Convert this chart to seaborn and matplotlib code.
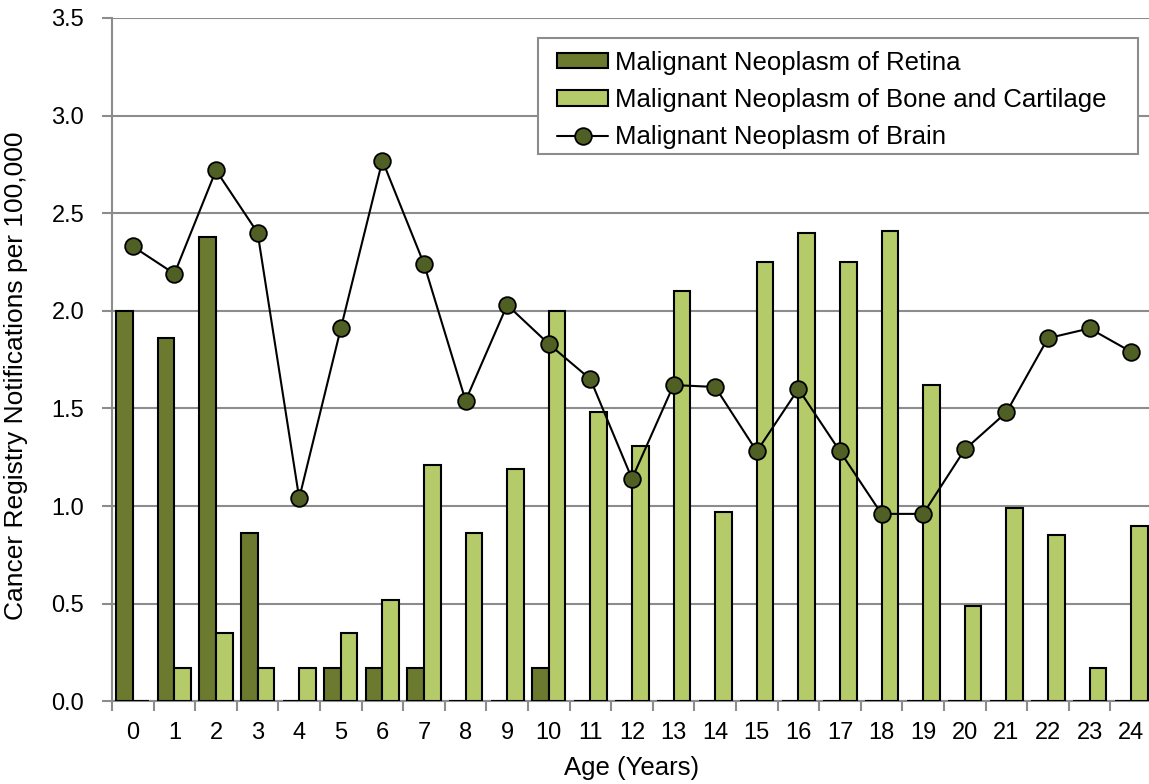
import numpy as np
import pandas as pd
import matplotlib
matplotlib.use("Agg")
import matplotlib.pyplot as plt
from matplotlib.patches import Patch, Rectangle
from matplotlib.lines import Line2D
from matplotlib.ticker import MultipleLocator, FormatStrFormatter
import seaborn as sns

# Age in years and rates per 100,000
ages = list(range(25))
retina = [2.00, 1.86, 2.38, 0.86, 0.00, 0.17, 0.17, 0.17, 0.00, 0.00, 0.17, 0.00, 0.00,
          0.00, 0.00, 0.00, 0.00, 0.00, 0.00, 0.00, 0.00, 0.00, 0.00, 0.00, 0.00]
bone = [0.00, 0.17, 0.35, 0.17, 0.17, 0.35, 0.52, 1.21, 0.86, 1.19, 2.00, 1.48, 1.31,
        2.10, 0.97, 2.25, 2.40, 2.25, 2.41, 1.62, 0.49, 0.99, 0.85, 0.17, 0.90]
brain = [2.33, 2.19, 2.72, 2.40, 1.04, 1.91, 2.77, 2.24, 1.54, 2.03, 1.83, 1.65, 1.14,
         1.62, 1.61, 1.28, 1.60, 1.28, 0.96, 0.96, 1.29, 1.48, 1.86, 1.91, 1.79]

series_names = ["Malignant Neoplasm of Retina",
                "Malignant Neoplasm of Bone and Cartilage",
                "Malignant Neoplasm of Brain"]

dark_green = "#6b7a2e"
light_green = "#b5ca68"
marker_green = "#505f23"
grid_grey = "#8c8c8c"

sns.set_theme(style="white")
plt.rcParams["font.family"] = ["Liberation Sans", "DejaVu Sans"]
plt.rcParams["text.color"] = "black"
plt.rcParams["axes.labelcolor"] = "black"

bars = pd.DataFrame({
    "Age": [str(a) for a in ages] * 2,
    "Rate": retina + bone,
    "Series": [series_names[0]] * len(ages) + [series_names[1]] * len(ages),
})
line = pd.DataFrame({"Age": ages, "Rate": brain})

fig = plt.figure(figsize=(11.49, 7.84), dpi=100)
ax = fig.add_axes([112 / 1149, (784 - 701.3) / 784, 1040 / 1149, 683.3 / 784])

sns.barplot(data=bars, x="Age", y="Rate", hue="Series",
            palette=[dark_green, light_green], saturation=1, width=0.8, gap=0,
            edgecolor="black", linewidth=1.5, legend=False, ax=ax, zorder=3)
sns.lineplot(data=line, x="Age", y="Rate", color="black", linewidth=1.5,
             marker="o", markersize=12, markerfacecolor=marker_green,
             markeredgecolor="black", markeredgewidth=1.3, ax=ax, zorder=4)

ax.set_xlim(-0.5, 24.5)
ax.set_ylim(0, 3.5)
ax.yaxis.set_major_locator(MultipleLocator(0.5))
ax.yaxis.set_major_formatter(FormatStrFormatter("%.1f"))
ax.grid(axis="y", color=grid_grey, linewidth=1.5, zorder=0)
ax.set_axisbelow(True)

# Category labels centred, tick marks on category boundaries
ax.set_xticks(ages)
ax.set_xticklabels([str(a) for a in ages])
ax.set_xticks(np.arange(-0.5, 25, 1), minor=True)
ax.tick_params(axis="x", which="major", length=0, pad=15, labelsize=17, labelcolor="black")
ax.tick_params(axis="x", which="minor", length=7, width=1.5, color=grid_grey,
               direction="out", bottom=True)
ax.tick_params(axis="y", which="major", length=7, width=1.5, color=grid_grey,
               direction="out", left=True, labelsize=17, pad=13, labelcolor="black")

for side in ("top", "right"):
    ax.spines[side].set_visible(False)
for side in ("left", "bottom"):
    ax.spines[side].set_color(grid_grey)
    ax.spines[side].set_linewidth(1.5)

ax.set_xlabel("Age (Years)", fontsize=18.5, labelpad=8.5)
ax.set_ylabel("Cancer Registry Notifications per 100,000", fontsize=19)
ax.yaxis.set_label_coords(-0.081, 0.476)

# Legend box drawn as its own frame, entries placed inside it
ax.add_patch(Rectangle((0.4096, 0.801), 0.9865 - 0.4096, 0.9707 - 0.801,
                       transform=ax.transAxes, facecolor="white", edgecolor=grid_grey,
                       linewidth=1.5, zorder=5, clip_on=False))
handles = [
    Patch(facecolor=dark_green, edgecolor="black", linewidth=1.5),
    Patch(facecolor=light_green, edgecolor="black", linewidth=1.5),
    Line2D([0], [0], color="black", linewidth=1.5, marker="o", markersize=12,
           markerfacecolor=marker_green, markeredgecolor="black", markeredgewidth=1.3),
]
leg = ax.legend(handles, series_names, loc="upper left", bbox_to_anchor=(0.4279, 0.9523),
                borderaxespad=0, borderpad=0, fontsize=18.5, frameon=False,
                handlelength=2.0, handleheight=0.55, handletextpad=0.27, labelspacing=0.52)
leg.set_zorder(6)

fig.savefig("out.png", dpi=100)
